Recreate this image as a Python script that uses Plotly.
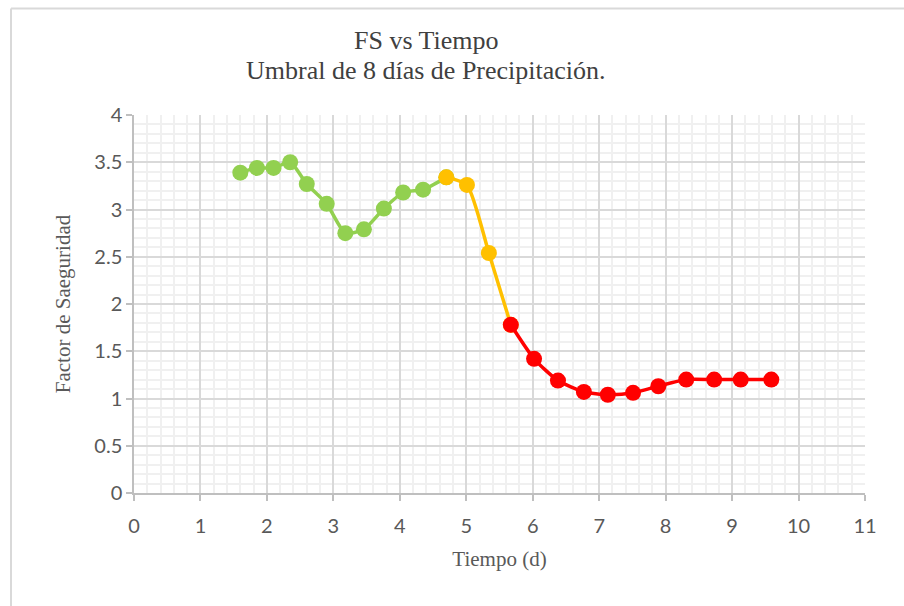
import plotly.graph_objects as go

# Factor de seguridad vs tiempo, split by alert level
t_verde = [1.6, 1.85, 2.1, 2.35, 2.6, 2.9, 3.18, 3.46, 3.76, 4.05, 4.35]
fs_verde = [3.39, 3.44, 3.44, 3.50, 3.27, 3.06, 2.75, 2.79, 3.01, 3.18, 3.21]

t_amarillo = [4.7, 5.01, 5.34]
fs_amarillo = [3.34, 3.26, 2.54]

t_rojo = [5.67, 6.02, 6.38, 6.77, 7.13, 7.51, 7.89, 8.31, 8.73, 9.13, 9.59]
fs_rojo = [1.78, 1.42, 1.19, 1.07, 1.04, 1.06, 1.13, 1.20, 1.20, 1.20, 1.20]

x_ticks = list(range(0, 12))
y_ticks = [0, 0.5, 1, 1.5, 2, 2.5, 3, 3.5, 4]
y_tick_text = ["0", "0.5", "1", "1.5", "2", "2.5", "3", "3.5", "4"]

titulo = ["FS vs Tiempo", "Umbral de 8 días de Precipitación."]

VERDE = "#92D050"
AMARILLO = "#FFC000"
ROJO = "#FF0000"

W, H = 904, 606
M_L, M_R, M_T, M_B = 134, 39, 115, 113
plot_w = W - M_L - M_R
plot_h = H - M_T - M_B


def px_x(px):
    """Horizontal pixel position -> paper coordinate."""
    return (px - M_L) / plot_w


def px_y(py):
    """Vertical pixel position -> paper coordinate."""
    return (H - M_B - py) / plot_h


fig = go.Figure()

# each segment's line runs on to the first point of the next segment
segmentos = [
    (t_verde + t_amarillo[:1], fs_verde + fs_amarillo[:1], VERDE),
    (t_amarillo + t_rojo[:1], fs_amarillo + fs_rojo[:1], AMARILLO),
    (t_rojo, fs_rojo, ROJO),
]
for xs, ys, color in segmentos:
    fig.add_trace(go.Scatter(
        x=xs, y=ys, mode="lines+markers",
        line=dict(color=color, width=3.5, shape="spline", smoothing=0.6),
        marker=dict(color=color, size=16),
        showlegend=False, cliponaxis=False,
    ))

grid_major = "#D9D9D9"
grid_minor = "#F0F0F0"
tick_font = dict(family="Lato", size=20, color="#595959")
title_font = dict(family="Liberation Serif", size=21, color="#595959")

fig.update_xaxes(
    range=[0, 11], tickvals=x_ticks, ticktext=[str(v) for v in x_ticks],
    showgrid=True, gridcolor=grid_major, gridwidth=1.5,
    minor=dict(dtick=0.2, showgrid=True, gridcolor=grid_minor, gridwidth=1.5),
    showline=True, linecolor="#BFBFBF", linewidth=1.5,
    ticks="outside", ticklen=6, tickcolor="#BFBFBF", tickwidth=1.5,
    ticklabelstandoff=8,
    tickfont=tick_font, zeroline=False,
    title=dict(text="Tiempo (d)", font=title_font, standoff=16),
)
fig.update_yaxes(
    range=[0, 4], tickvals=y_ticks, ticktext=y_tick_text,
    showgrid=True, gridcolor=grid_major, gridwidth=1.5,
    minor=dict(dtick=0.1, showgrid=True, gridcolor=grid_minor, gridwidth=1.5),
    showline=True, linecolor="#BFBFBF", linewidth=1.5,
    ticks="outside", ticklen=6, tickcolor="#BFBFBF", tickwidth=1.5,
    tickfont=tick_font, zeroline=False,
    title=dict(text="Factor de Saeguridad", font=title_font, standoff=18),
)

# two-line chart title, placed in paper coordinates
title_lines = [
    dict(text=texto, xref="paper", yref="paper",
         x=px_x(426), y=px_y(py),
         xanchor="center", yanchor="middle", showarrow=False,
         font=dict(family="Liberation Serif", size=26, color="#404040"))
    for texto, py in zip(titulo, [40, 70])
]

fig.update_layout(
    width=W, height=H,
    margin=dict(l=M_L, r=M_R, t=M_T, b=M_B),
    paper_bgcolor="white", plot_bgcolor="white",
    annotations=title_lines,
    shapes=[
        dict(type="line", xref="paper", yref="paper",
             x0=px_x(11), x1=px_x(11), y0=px_y(8.5), y1=px_y(620),
             line=dict(color="#D9D9D9", width=2)),
        dict(type="line", xref="paper", yref="paper",
             x0=px_x(11), x1=px_x(920), y0=px_y(8.5), y1=px_y(8.5),
             line=dict(color="#D9D9D9", width=2)),
    ],
)

fig.write_html("out.html")
